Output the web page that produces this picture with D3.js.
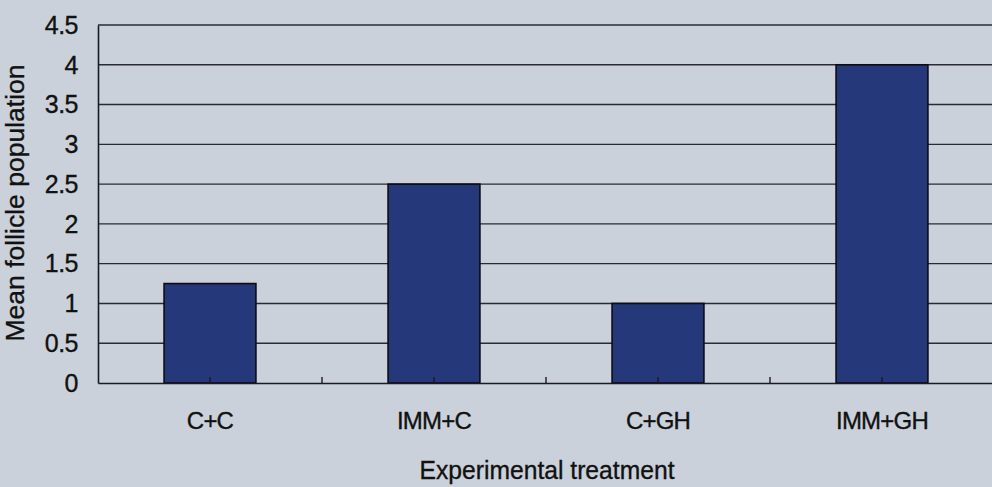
<!DOCTYPE html>
<html><head><meta charset="utf-8">
<script src="https://cdn.jsdelivr.net/npm/d3@7"></script>
<style>
html,body{margin:0;padding:0;background:#cbd1da;}
svg{display:block;}
text{font-family:"Liberation Sans",Arial,sans-serif;fill:#111;}
</style></head>
<body>
<svg id="chart" width="992" height="487"></svg>
<script>
const categories = ["C+C", "IMM+C", "C+GH", "IMM+GH"];
const values = [1.25, 2.5, 1.0, 4.0];
const yTicks = [0, 0.5, 1, 1.5, 2, 2.5, 3, 3.5, 4, 4.5];
const yTickLabels = ["0", "0.5", "1", "1.5", "2", "2.5", "3", "3.5", "4", "4.5"];
const xTitle = "Experimental treatment";
const yTitle = "Mean follicle population";

const W = 992, H = 487;
const m = {left: 98, top: 25, right: -2, bottom: 104};
const svg = d3.select("#chart");
svg.append("rect").attr("width", W).attr("height", H).attr("fill", "#cbd1da");

const x = d3.scaleBand().domain(categories).range([m.left, W - m.right]).paddingInner(0).paddingOuter(0);
const y = d3.scaleLinear().domain([0, 4.5]).range([H - m.bottom, m.top]);

// gridlines
svg.append("g").selectAll("line").data(yTicks.filter(d => d > 0)).join("line")
  .attr("x1", m.left).attr("x2", W)
  .attr("y1", d => y(d)).attr("y2", d => y(d))
  .attr("stroke", "#2a2a35").attr("stroke-width", 1.4);

// bars
const bw = x.bandwidth() * 0.41;
svg.append("g").selectAll("rect").data(values).join("rect")
  .attr("x", (d, i) => x(categories[i]) + x.bandwidth() / 2 - bw / 2)
  .attr("y", d => y(d))
  .attr("width", bw)
  .attr("height", d => y(0) - y(d))
  .attr("fill", "#24387a")
  .attr("stroke", "#0c0c14").attr("stroke-width", 1.6);

const textStyle = sel => sel.attr("fill", "#111").attr("stroke", "#111").attr("stroke-width", 0.35)
  .attr("font-family", "Liberation Sans, Arial, sans-serif");

// y axis
const yAxis = d3.axisLeft(y).tickValues(yTicks).tickFormat((d, i) => yTickLabels[i]).tickSize(0).tickPadding(20);
const gy = svg.append("g").attr("transform", `translate(${m.left},0)`).call(yAxis);
gy.select(".domain").attr("stroke", "#1a1a22").attr("stroke-width", 1.6);
gy.selectAll("text").attr("font-size", 25).attr("letter-spacing", "-0.5px").attr("dy", "0.33em").call(textStyle);

// x axis
const xAxis = d3.axisBottom(x).tickSize(0).tickPadding(0);
const gx = svg.append("g").attr("transform", `translate(0,${y(0)})`).call(xAxis);
gx.select(".domain").attr("stroke", "#1a1a22").attr("stroke-width", 1.6);
gx.selectAll("text").attr("font-size", 24).attr("letter-spacing", "-0.8px")
  .attr("dy", null).attr("y", 46).call(textStyle);

// small upward ticks at band centres and boundaries
const tickPos = [];
categories.forEach((c, i) => {
  tickPos.push(x(c) + x.bandwidth() / 2);
  if (i > 0) tickPos.push(x(c));
});
svg.append("g").selectAll("line").data(tickPos).join("line")
  .attr("x1", d => d).attr("x2", d => d)
  .attr("y1", y(0)).attr("y2", y(0) - 6)
  .attr("stroke", "#1a1a22").attr("stroke-width", 1.4);

// titles
svg.append("text").attr("x", 547).attr("y", 479).attr("text-anchor", "middle")
  .attr("font-size", 25).attr("textLength", 255).attr("lengthAdjust", "spacingAndGlyphs")
  .text(xTitle).call(textStyle);
svg.append("text").attr("transform", `translate(24,203) rotate(-90)`).attr("text-anchor", "middle")
  .attr("font-size", 25).attr("textLength", 277).attr("lengthAdjust", "spacingAndGlyphs")
  .text(yTitle).call(textStyle);
</script>
</body></html>
